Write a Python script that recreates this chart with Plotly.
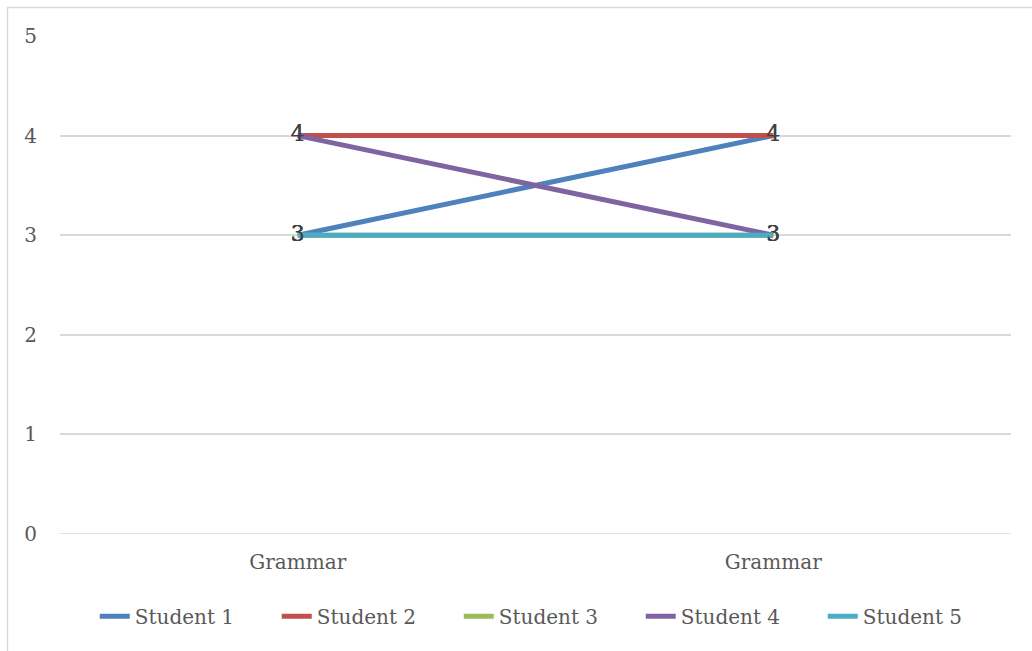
import plotly.graph_objects as go

categories = ["Grammar", "Grammar"]
series_names = ["Student 1", "Student 2", "Student 3", "Student 4", "Student 5"]
student1 = [3, 4]
student2 = [4, 4]
student3 = [3, 3]
student4 = [4, 3]
student5 = [3, 3]
y_ticks = [0, 1, 2, 3, 4, 5]

values = [student1, student2, student3, student4, student5]
colors = ["#4F81BD", "#C0504D", "#9BBB59", "#8064A2", "#4BACC6"]

FONT = "DejaVu Serif"
x_pos = list(range(len(categories)))

fig = go.Figure()
for name, vals, col in zip(series_names, values, colors):
    fig.add_trace(go.Scatter(
        x=x_pos, y=vals, name=name, mode="lines+text",
        line=dict(color=col, width=5),
        text=[str(v) for v in vals], textposition="middle center",
        textfont=dict(family=FONT, size=22, color="#404040"),
        cliponaxis=False,
    ))

fig.update_layout(
    width=1032, height=651,
    margin=dict(l=60, r=21, t=36, b=117, autoexpand=False),
    paper_bgcolor="white", plot_bgcolor="white",
    font=dict(family=FONT, size=20, color="#595959"),
    showlegend=True,
    legend=dict(orientation="h", x=0.515, xanchor="center", y=-0.165, yanchor="middle",
                font=dict(family=FONT, size=20, color="#595959"),
                traceorder="normal", entrywidth=137, itemwidth=30),
    xaxis=dict(range=[-0.5, 1.5], tickvals=x_pos, ticktext=categories,
               showgrid=False, zeroline=False, showline=False, ticks="",
               ticklabelstandoff=14, tickfont=dict(size=20)),
    yaxis=dict(range=[0, 5], tickvals=y_ticks, showgrid=True, gridcolor="#D9D9D9", gridwidth=1.5,
               zeroline=False, showline=False, ticks="", ticklabelstandoff=22,
               tickfont=dict(size=20)),
    shapes=[dict(type="rect", xref="paper", yref="paper",
                 x0=(7.5 - 60) / 951, x1=(1045 - 60) / 951,
                 y0=(534 - 665) / 498, y1=1 + (36 - 7.5) / 498,
                 line=dict(color="#D9D9D9", width=1.5), layer="below")],
)
fig.add_hline(y=0, line=dict(color="#D9D9D9", width=1.5), layer="below")

fig.write_html("out.html")
